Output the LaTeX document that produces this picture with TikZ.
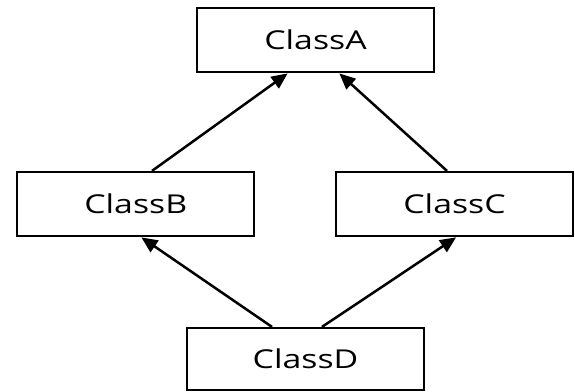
\documentclass[tikz,border=0pt]{standalone}
\usepackage{fontspec}
\setmainfont{Open Sans}[FakeStretch=1.3]
\usetikzlibrary{arrows.meta}
\begin{document}
\begin{tikzpicture}[x=1pt,y=-1pt,
  classbox/.style={draw=black,line width=2.2pt,fill=white,inner sep=0pt,
    minimum width=237pt,minimum height=64pt,
    font=\fontsize{26}{31}\selectfont,text=black},
  inherit/.style={draw=black,line width=2.5pt,
    -{Triangle[length=16pt,width=14pt]},shorten >=0.5pt}]
\fill[white] (0,0) rectangle (575,391);
\useasboundingbox (0,0) rectangle (575,391);
\node[classbox] (A) at (315.5,40) {ClassA};
\node[classbox] (B) at (135.75,204) {ClassB};
\node[classbox] (C) at (454.5,204) {ClassC};
\node[classbox,minimum height=62pt] (D) at (305.5,359) {ClassD};
\draw[inherit] ([xshift=16.25pt]B.north) -- ([xshift=-27.5pt]A.south);
\draw[inherit] ([xshift=-7.5pt]C.north) -- ([xshift=23.5pt]A.south);
\draw[inherit] ([xshift=-33.5pt]D.north) -- ([xshift=5.25pt]B.south);
\draw[inherit] ([xshift=16.5pt]D.north) -- ([xshift=2pt]C.south);
\end{tikzpicture}
\end{document}
